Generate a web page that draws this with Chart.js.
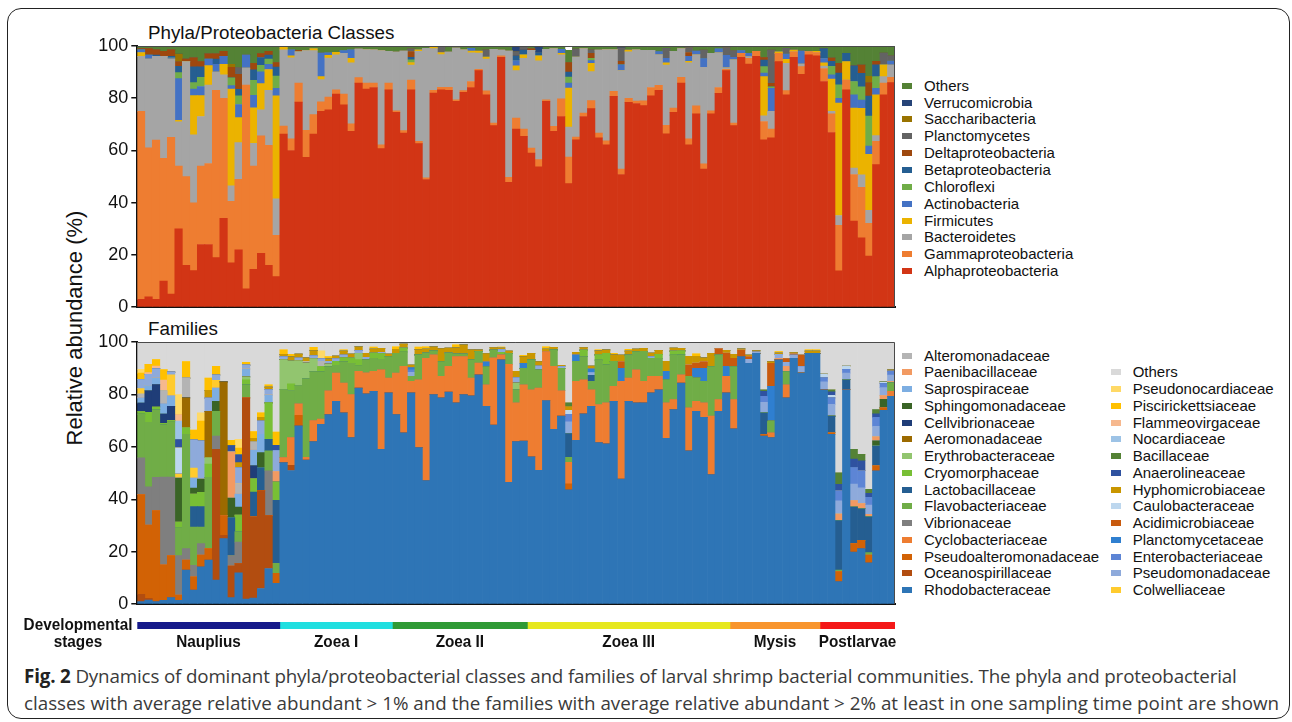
<!DOCTYPE html>
<html>
<head>
<meta charset="utf-8">
<script src="https://cdn.jsdelivr.net/npm/chart.js@4.4.1/dist/chart.umd.min.js"></script>
<style>
  body { margin: 0; width: 1292px; height: 722px; background: #fff; position: relative; overflow: hidden;
         font-family: 'Liberation Sans', Arial, sans-serif; color: #111; }
  #frame { position: absolute; left: 7px; top: 8px; width: 1283px; height: 711px; border: 1.5px solid #222;
           border-radius: 14px; box-sizing: border-box; }
  canvas { position: absolute; }
  .title { position: absolute; font-size: 18.8px; line-height: 19px; white-space: nowrap; }
  #ylabel { position: absolute; left: -75px; top: 315px; width: 300px; height: 26px; line-height: 26px;
            font-size: 22px; text-align: center; transform: rotate(-90deg); white-space: nowrap; }
  .item { position: absolute; height: 18px; line-height: 18px; font-size: 15px; white-space: nowrap; }
  .item i { position: absolute; left: 0; top: 6px; width: 10px; height: 6px; }
  .item span { position: absolute; left: 22px; top: 0; }
  #caption { position: absolute; left: 24px; top: 663px; font-family: 'Open Sans', sans-serif; font-size: 18.8px;
             line-height: 27px; color: #3a3a3a; white-space: nowrap; }
  #caption b { color: #222; }
  #caption .l1 { letter-spacing: -0.16px; }
</style>
</head>
<body>
<div id="frame"></div>
<div class="title" style="left:148px; top:23px;">Phyla/Proteobacteria Classes</div>
<div class="title" style="left:148px; top:319px;">Families</div>
<div id="ylabel">Relative abundance (%)</div>
<canvas id="phyla" width="850" height="291" style="left:50px; top:30px;"></canvas>
<canvas id="families" width="850" height="292" style="left:50px; top:326px;"></canvas>
<canvas id="stages" width="900" height="45" style="left:0px; top:612px;"></canvas>
<div id="legendPhyla"></div>
<div id="legendFamilies"></div>
<div id="caption"><span class="l1"><b>Fig. 2</b> Dynamics of dominant phyla/proteobacterial classes and families of larval shrimp bacterial communities. The phyla and proteobacterial</span><br>classes with average relative abundant &gt; 1% and the families with average relative abundant &gt; 2% at least in one sampling time point are shown</div>

<script>
// stages (samples per stage, left to right)
const stageNames = ['Nauplius', 'Zoea I', 'Zoea II', 'Zoea III', 'Mysis', 'Postlarvae'];
const stageCounts = [19, 15, 18, 27, 12, 10];
const stageColors = ['#15198a', '#1fdfe0', '#2f9a35', '#e6e81e', '#f8952d', '#f41818'];
const yTicks = [0, 20, 40, 60, 80, 100];

// ---------- phyla / proteobacteria classes (%), one value per sample ----------
// rows: Nauplius | Zoea I | Zoea II | Zoea III | Mysis | Postlarvae
const alphaproteobacteria = [
  3, 4, 3, 10, 5, 30, 16, 14, 24, 24, 19, 34, 17, 22, 7, 14.5, 20.6, 16, 11.7,
  66.3, 60, 78.5, 57.4, 66.3, 75, 75.6, 81.6, 77.5, 67.3, 85.8, 83.5, 84.1, 60.7, 83.2,
  74.6, 66.7, 83.2, 62.6, 48.9, 82, 83.2, 83, 78.8, 82.3, 84.1, 90.6, 81.3, 69.5, 95.7, 47.8, 68.2, 65.4,
  59, 53.7, 78.8, 67.3, 73, 47.3, 64.1, 73, 76, 64.8, 62.2, 80.7, 50.8, 78.4, 78, 77.2, 80.9, 83, 66.4, 74.6, 85.8, 62.2, 74, 52.9, 74, 81.9, 90.6,
  69.5, 95.7, 93.1, 96, 64.1, 64.8, 94, 81.3, 95.7, 89.2, 96.6, 96.2,
  86.4, 66.9, 13.9, 83.2, 33, 26.6, 19.6, 54.6, 81.3, 86
];
const gammaproteobacteria = [
  72, 57, 61, 47, 60, 24, 34, 26, 30, 31, 64, 46, 23.5, 27, 78, 39.5, 45, 46, 15.8,
  3, 4.5, 7.3, 10.3, 7.4, 3.6, 4.8, 1.6, 4.1, 2.9, 2.1, 2.3, 1.7, 1.5, 2.6,
  0.6, 0.9, 3.8, 0.9, 0.6, 1, 1, 1.2, 0.6, 0.6, 2.3, 0.5, 1.5, 1, 0.5, 1.9, 4.2, 2.8,
  1.9, 2.8, 0.6, 1.9, 6.8, 10.2, 1, 1.3, 3.1, 1.9, 1.5, 1.9, 2.1, 1.6, 0.9, 1.8, 3.2, 1.9, 3.2, 1.6, 2.2, 2.3, 3.1, 2, 1.2, 2.2, 0.5,
  1, 1.5, 2.2, 2, 7, 3.4, 3.2, 1.6, 2.1, 2.9, 1.3, 1.3,
  5, 7.1, 17.4, 3.8, 17.8, 19.3, 12.5, 8.9, 4.5, 2
];
const bacteroidetes = [
  21, 34, 32, 39, 30, 17, 44, 26, 19, 30, 7, 9, 6, 14, 6.5, 8.7, 10, 21, 14,
  29.2, 31, 12, 30.5, 24.5, 8.5, 15, 13.4, 15.6, 23.4, 10.9, 12.8, 12.7, 36, 12.2,
  22.5, 30.5, 5.7, 34.5, 49.6, 16, 12.5, 13.5, 19.8, 15.6, 11, 6.2, 12.2, 28.2, 2.2, 48.4, 18.2, 27.1,
  37.4, 37.8, 19.3, 29.8, 16.8, 11.5, 30.7, 24.7, 11.1, 31.7, 34.9, 16, 37.7, 17.8, 19.6, 19.3, 14.2, 11.7, 23.1, 21.8, 11, 29.1, 19.5, 36.9, 22, 13.3, 0.5,
  24.2, 0, 0.6, 0, 2.2, 6.8, 0, 10.5, 0, 1, 0, 0,
  0.9, 1, 3.8, 0, 2.5, 4.8, 5, 2.2, 2.5, 4.7
];
const firmicutes = [
  1.5, 0, 0, 0, 0, 0.5, 0, 15, 8, 7.5, 0, 4, 37, 9.6, 0, 13.6, 10, 8, 39.4,
  1, 0.7, 0, 0, 0.8, 1.2, 1, 1, 0, 1.7, 0, 0, 0, 0, 0,
  0, 0, 1, 0.5, 0, 0.5, 0.8, 0, 0, 0, 0.7, 0.8, 0.8, 0, 0, 0, 1.8, 1.3,
  0, 1.9, 0, 0, 0.6, 14.9, 0, 0, 3.2, 0, 0, 0, 0, 0.6, 0, 0, 0, 0, 0.9, 0, 0, 0.5, 0, 0, 0, 0, 0,
  0, 0, 0, 0, 15, 0, 0.6, 1.5, 0.6, 0, 0, 0.5,
  1.3, 12.3, 43, 7, 22.9, 25.4, 21.4, 15.6, 4.5, 0
];
const actinobacteria = [
  1, 1.5, 0, 0, 0.5, 16, 0, 2.5, 3.5, 2.5, 3, 3, 1.3, 5, 5, 4.8, 4.5, 2, 2.9,
  0, 2.3, 0, 0, 0, 9, 1, 0, 1, 3.2, 0, 0, 0, 0, 0,
  0, 0, 0, 0, 0, 0, 0, 0, 0, 0, 1, 0, 0, 0, 0, 0, 2, 0,
  0, 0, 0, 0, 1.5, 1.9, 0, 0, 1, 0, 0, 0, 2.2, 0, 0, 0, 0, 1.3, 1.7, 0, 0, 1.9, 1.5, 3.4, 0, 1.5, 4.8,
  1, 1, 1.3, 0, 1.3, 8.8, 0, 2, 0, 5, 0, 0,
  1.6, 1.7, 1.9, 0, 5.1, 3.2, 3.2, 2.5, 0, 1.5
];
const chloroflexi = [
  0, 0, 0, 0, 0, 2.3, 0, 2.5, 3.5, 0, 0, 0, 3, 3.3, 0, 5.8, 2.5, 2, 4.7,
  0, 0, 0, 0, 0, 0, 0, 0, 0, 0, 0, 0, 0, 0, 0,
  0, 0, 1, 0, 0, 0, 0, 0, 0, 0, 0, 0, 0, 0, 0, 0, 0, 0,
  0, 0, 0, 0, 0, 2.3, 0, 0, 0.9, 0, 0, 0, 0, 0, 0, 0, 0, 0, 0, 0, 0, 0, 0, 0, 0, 0, 0,
  0, 0, 0, 0, 2.5, 0.6, 0, 0, 0, 0, 0, 0,
  0, 3.2, 5.1, 0, 5.1, 5.1, 11.5, 4.5, 0, 0
];
const betaproteobacteria = [
  0, 0, 0.5, 0, 0.5, 2.4, 0, 6, 4, 0, 2, 0, 0, 2.5, 0, 4, 3, 1.5, 3.4,
  0, 0, 0, 0, 0, 0, 0, 0, 0, 0, 0, 0, 0, 0, 0,
  0, 0, 1, 0, 0, 0, 0, 0, 0, 0, 0, 0, 0, 0, 0, 0, 1.8, 1.9,
  0, 1.3, 0, 0, 0, 1.9, 0, 0, 0, 0, 0, 0, 0, 0, 0, 0, 0, 0, 0, 0, 0, 0, 0, 0, 0, 0, 0,
  0, 0, 0, 0, 2.5, 0, 0, 0, 0, 0, 0, 0,
  3.8, 1.9, 4.5, 3.2, 6, 5.1, 7.6, 4.5, 0, 0
];
const deltaproteobacteria = [
  0.5, 2.5, 2, 2, 2.5, 1.7, 1, 3.5, 2, 2, 2, 2, 4, 5.8, 0, 2.5, 1.5, 1.5, 1.8,
  0, 0, 0.5, 0, 0, 0, 0, 0, 0, 0, 0, 0, 0, 0, 0,
  0, 0, 2.2, 0, 0, 0, 0, 0, 0, 0, 0, 0, 0, 0, 0, 0, 0, 0,
  0.6, 0, 0, 0, 0, 3.7, 0, 0, 1.9, 0, 0, 0, 1.3, 0, 0, 0, 0, 0, 0, 0, 0, 1.5, 0, 0, 0, 0, 0,
  0, 0, 0, 0, 1, 1.3, 0, 0, 0, 0, 0, 0,
  0, 1.3, 3.8, 0, 0, 3.2, 5.1, 1.3, 0, 0
];
const planctomycetes = [
  0, 0, 0, 0, 0, 0, 0, 0, 0, 0, 0, 0, 0, 2.5, 0, 0, 0, 0, 0,
  0, 0, 0, 0, 0, 0, 0, 0, 0, 0, 0, 0, 0, 0, 0,
  0, 0, 1, 0, 0, 0, 2, 0, 0, 0, 0, 0, 2.7, 0, 0, 0, 1.6, 1.3,
  0, 0, 0, 0, 0, 0, 3, 0, 1.3, 0, 0, 0, 5.1, 0, 0, 0, 0, 0, 3.8, 0, 0, 1.9, 0, 3.2, 0, 0, 3,
  2.5, 0, 0, 0, 0, 12.7, 0, 2.2, 0, 0, 0, 0,
  0, 0, 0, 0, 0, 0, 0, 0, 4.5, 2
];
const saccharibacteria = [
  0, 0, 0, 0, 0, 3, 0, 0, 0, 0, 0, 0, 1.2, 0, 0, 0, 0, 0, 0,
  0, 0, 0, 0, 0, 0, 0, 0, 0, 0, 0, 0, 0, 0, 0,
  0, 0, 0, 0, 0, 0, 0, 0, 0, 0, 0, 0, 0, 0, 0, 0, 0, 0,
  0, 0, 0, 0, 0, 0, 0, 0, 0, 0, 0, 0, 0, 0, 0, 0, 0, 0, 0, 0, 0, 0, 0, 0, 0, 0, 0,
  0, 0, 0, 0, 0, 0, 0, 0, 0, 0, 0, 0,
  0, 0, 0, 0, 0, 0, 2.5, 0, 0, 0
];
const verrucomicrobia = [
  0, 0, 0, 0, 0, 0, 0, 0, 0, 0, 0, 0, 0, 0, 0, 0, 0, 0, 0,
  0, 0, 0, 0, 0, 0, 0, 0, 0, 0, 0, 0, 0, 0, 0,
  0, 0, 0, 0, 0, 0, 0, 0, 0, 0, 0, 0, 0, 0, 0, 0, 1.9, 0,
  0, 2, 0, 0, 0, 0, 0, 0, 0, 0, 0, 0, 0.6, 0, 0, 0, 0, 0, 0, 0, 0, 0, 0, 0, 0, 0, 0,
  0, 0, 0, 0, 0, 0, 0, 0, 0, 0, 0, 0,
  0, 0, 0, 0, 0, 0, 0, 0, 0, 0
];
const othersPhyla = [
  1, 1, 1.5, 2, 1.5, 3.1, 5, 4.5, 6, 3, 3, 2, 7, 8.3, 3.5, 6.6, 2.9, 2, 6.3,
  0.5, 1.5, 1.7, 1.8, 1, 2.7, 2.6, 2.4, 1.8, 1.5, 1.2, 1.4, 1.5, 1.8, 2,
  2.3, 1.9, 1.1, 1.5, 0.9, 0.5, 0.5, 2.3, 0.8, 1.5, 0.9, 1.9, 1.5, 1.3, 1.6, 1.9, 0.3, 0.2,
  1.1, 0.5, 1.3, 1, 1.3, 4.6, 1.2, 1, 1.5, 1.6, 1.4, 1.4, 0.2, 1.6, 1.5, 1.7, 1.7, 2.1, 0.9, 2, 1, 0.6, 1.9, 1.6, 2.8, 1.1, 0.6,
  1.8, 1.8, 2.8, 2, 4.4, 1.6, 2.2, 0.9, 1.6, 1.9, 2.1, 2,
  1, 4.6, 6.6, 2.8, 7.6, 7.3, 11.6, 5.9, 2.7, 3.8
];

// ---------- families (%), one value per sample ----------
const rhodobacteraceae = [
  1, 1.6, 1, 1.5, 2.5, 1.5, 13, 5.4, 14.3, 16.8, 9.2, 25, 2.5, 12, 2, 2.3, 6, 13.6, 8,
  54, 51, 68, 55, 62, 68.6, 72.3, 77.4, 73, 63.5, 82.4, 80.2, 81.2, 59.1, 80.6,
  72.3, 65.4, 80.6, 59.7, 47.1, 79.9, 78.7, 80.9, 76.8, 79.9, 79.5, 87.5, 75.5, 68.3, 93.2, 46.5, 62, 62.2,
  56.2, 51.1, 77.7, 66.7, 71.7, 43.6, 62.5, 72.6, 75.5, 61.6, 61.2, 77.4, 47.7, 77.4, 76.8, 76.8, 80.6, 81.8, 63.3, 74.2, 84.3, 58.5, 73.6, 71.3, 49.4, 73.6, 80.6,
  66.9, 94.4, 91.9, 95.7, 64.1, 63.5, 93.2, 78.7, 93.8, 88.1, 95.7, 95.7,
  81.8, 64.8, 8.6, 81.8, 19.9, 21.2, 15.8, 50.9, 73.9, 79.3
];
const oceanospirillaceae = [
  2.8, 0.6, 0, 0, 0, 0, 0, 0, 0, 0, 49.9, 1.3, 12, 3.5, 76.7, 31, 37.3, 20.2, 0,
  0, 2, 0, 0, 0, 0, 0, 0, 0, 0, 0, 0, 0, 0, 0,
  0, 0, 0, 0, 0, 0, 0, 0, 0, 0, 0, 0, 0, 0, 0, 0, 0, 0,
  0, 0, 0, 0, 0, 0, 0, 0, 0, 0, 0, 0, 0, 0, 0, 0, 0, 0, 0, 0, 0, 0, 0, 0, 0, 0, 0,
  0, 0, 0, 0, 0, 0, 0, 0, 0, 0, 0, 0,
  0, 0, 0, 0, 0, 0, 0, 0, 0, 0
];
const pseudoalteromonadaceae = [
  38, 28, 34.7, 13.5, 16, 2, 3.8, 5, 4.4, 4.4, 0, 7.5, 0, 0, 0, 0, 0, 0, 3.8,
  0, 0, 4, 0, 0, 0, 0, 0, 0, 0, 0, 0, 0, 0, 0,
  0, 0, 0, 0, 0, 0, 0, 0, 0, 0, 0, 0, 0, 0, 0, 0, 0, 0,
  0, 0, 0, 0, 0, 2.3, 0, 0, 0, 0, 0, 0, 0, 0, 0, 0, 0, 0, 0, 0, 0, 0, 0, 0, 0, 0, 0,
  0, 0, 0, 0, 0.6, 0, 0, 0, 0, 0, 0, 0,
  0, 0.6, 3.8, 0, 3.2, 3.2, 2.9, 1.9, 1, 0
];
const cyclobacteriaceae = [
  0, 0, 0, 0, 0, 0, 0, 0, 0, 0, 0, 0, 0, 0, 0, 0, 0, 0, 0,
  1.9, 10.5, 4.4, 1, 8, 2, 9.1, 10.7, 11.3, 16.4, 6.4, 8, 7.6, 30.3, 5.6,
  15.8, 25.3, 4.4, 25.9, 46.7, 15.2, 8.2, 9.8, 17.6, 14.5, 6.7, 4.5, 8.2, 25.7, 1.9, 45, 14.8, 21.5,
  25.6, 31.3, 18.6, 24, 9.7, 8.2, 22.5, 13, 6.3, 14.5, 15.6, 5.7, 37.3, 8.8, 12.6, 8.2, 6.3, 5.1, 13.5, 3.8, 3.2, 16.4, 3.8, 5.5, 22.3, 4.4, 6.3,
  11.1, 0, 0, 0, 0, 1.9, 0, 5, 0, 0, 0, 0,
  0, 0, 0, 0, 0, 0, 0, 0, 0, 1.9
];
const vibrionaceae = [
  14, 14.6, 12.7, 33.5, 30, 15, 4.4, 4.4, 4.4, 0, 5, 0, 4, 8.2, 0, 0, 0, 17.1, 0,
  0, 0, 0, 0, 0, 0, 0, 0, 0, 0, 0, 0, 0, 0, 0,
  0, 0, 0, 0, 0, 0, 0, 0, 0, 0, 0, 0, 0, 0, 0, 0, 0, 0,
  0, 0, 0, 0, 0, 0, 0, 0, 0, 0, 0, 0, 0, 0, 0, 0, 0, 0, 0, 0, 0, 0, 0, 0, 0, 0, 0,
  0, 0, 0, 0, 0, 0, 0, 0, 0, 0, 0, 0,
  0, 0, 0, 0, 0, 0, 0, 0, 0, 0
];
const flavobacteriaceae = [
  16.7, 24.6, 25.8, 20, 21, 10.5, 43.6, 14.6, 6.3, 27.2, 9.5, 0, 0, 4, 5, 0, 0, 7.6, 3.8,
  26, 18, 7, 30, 18.7, 18, 9.2, 3, 8.2, 12, 2, 5, 5, 4, 8.2,
  7.6, 5.5, 1.9, 9.5, 2, 1.5, 5.6, 5.1, 1, 1, 7, 4.4, 6.8, 2.9, 0, 4.2, 5, 6.3,
  11.4, 6.9, 0, 6.3, 8.6, 1.9, 7.6, 8.8, 3.2, 17, 14.5, 9.5, 0, 8.8, 6.9, 11.4, 6.9, 6.9, 8.8, 17, 7.6, 12, 8.8, 8.2, 18.9, 17, 0,
  12.6, 0, 0, 0, 0, 4.4, 0, 5, 0, 0, 0, 0,
  0, 0, 0.6, 0, 0, 0, 1, 0, 0, 3.2
];
const lactobacillaceae = [
  0, 0, 0, 0, 0, 0, 0, 7.8, 7.8, 0, 0, 0, 14.5, 0, 0, 9.5, 8.8, 4.4, 24,
  0, 0, 0, 0, 0, 0, 0, 0, 0, 0, 0, 0, 0, 0, 0,
  0, 0, 0, 0, 0, 0, 0, 0, 0, 0, 0, 0, 0, 0, 0, 0, 0, 0,
  0, 0, 0, 0, 0, 9.1, 0, 0, 2.3, 0, 0, 0, 0, 0, 0, 0, 0, 0, 0, 0, 0, 0, 0, 0, 0, 0, 0,
  0, 0, 0, 0, 8.3, 0, 0, 0, 0, 0, 0, 0,
  0, 6.3, 18.9, 3.8, 13.9, 12, 13.6, 7.6, 0, 0
];
const cryomorphaceae = [
  1, 3.8, 1, 0.5, 0.5, 2.3, 2.5, 4.8, 5.5, 5, 0, 0, 0, 6.3, 2, 5, 0, 13.9, 7,
  0, 2.5, 0, 0, 0, 2, 0, 1.5, 1.5, 2, 2.5, 0, 2, 2.2, 0,
  0, 1.5, 0, 0, 0, 0, 0, 0, 0, 0, 0, 0, 0, 0, 1, 0, 0, 0,
  0, 0, 0, 0, 0, 0, 0, 2.5, 0, 2, 4.4, 0, 0, 0, 0, 0, 0, 1.5, 0, 1.5, 1.5, 0, 0, 0, 0, 0, 0,
  0, 0, 0, 0, 0, 0, 0, 0, 0, 0, 0, 0,
  0, 0, 0, 0, 0, 0, 0, 0, 0, 0
];
const erythrobacteraceae = [
  0, 0, 0, 0, 0, 0, 0, 0, 0, 2.5, 0, 0, 0, 0, 1, 0, 0, 0, 0,
  11.4, 8.8, 9.5, 6, 5, 0, 1, 0, 0, 0, 2.4, 0, 0, 0, 0,
  0, 0, 0, 0, 0, 0, 0, 0, 0, 0, 0, 0, 0, 0, 0, 0, 2.5, 0,
  0, 0, 0, 0, 0, 0, 0, 0, 0, 0, 0, 0, 0, 0, 0, 0, 0, 0, 0, 0, 0, 0, 0, 0, 0, 0, 0,
  0, 0, 0, 0, 0, 0, 0, 0, 0, 0, 0, 0,
  0, 0, 0, 0, 0, 0, 0, 0, 0, 0
];
const aeromonadaceae = [
  0, 0, 0, 0, 0, 0, 11.4, 0, 0, 17.7, 0, 51, 0, 0, 0, 0, 0, 0, 0,
  0, 0, 0, 0, 0, 0, 0, 0, 0, 0, 0, 0, 0, 0, 0,
  0, 0, 0, 0, 0, 0, 0, 0, 0, 0, 0, 0, 0, 0, 0, 0, 0, 0,
  0, 0, 0, 0, 0, 0, 0, 0, 0, 0, 0, 0, 0, 0, 0, 0, 0, 0, 0, 0, 0, 0, 0, 0, 0, 0, 0,
  0, 0, 0, 0, 0, 0, 0, 0, 0, 0, 0, 0,
  0, 0, 0, 0, 0, 0, 0, 0, 0, 0
];
const cellvibrionaceae = [
  3.2, 8.2, 8.6, 3.5, 5.5, 0, 0, 0, 0, 0, 0, 0, 0, 0, 0, 5, 0, 0, 0,
  0, 0, 0, 0, 0, 0, 0, 0, 0, 0, 0, 0, 0, 0, 0,
  0, 0, 0, 0, 0, 0, 0, 0, 0, 0, 0, 0, 0, 0, 0, 0, 0, 0,
  0, 0, 0, 0, 0, 0, 0, 0, 0, 0, 0, 0, 0, 0, 0, 0, 0, 0, 0, 0, 0, 0, 0, 0, 0, 0, 0,
  0, 0, 0, 0, 0, 0, 0, 0, 0, 0, 0, 0,
  0, 0, 0, 0, 0, 0, 0, 0, 0, 0
];
const sphingomonadaceae = [
  0, 0, 0, 0, 0, 16.8, 0, 2.3, 5, 0, 3.8, 0, 7.5, 3, 0, 0, 5.7, 0, 0,
  0, 0, 0, 0, 0, 0, 0, 0, 0, 0, 0, 0, 0, 0, 0,
  0, 0, 0, 0, 0, 0, 0, 0, 0, 0, 0, 0, 0, 0, 0, 0, 0, 0,
  0, 0, 0, 0, 0, 0, 0, 0, 0, 0, 0, 0, 0, 0, 0, 0, 0, 0, 0, 0, 0, 0, 0, 0, 0, 0, 0,
  0, 0, 0, 0, 0, 0, 0, 0, 0, 0, 0, 0,
  0, 0, 0, 0, 0, 0, 0, 1.9, 3.2, 0
];
const saprospiraceae = [
  2, 2, 2.5, 4, 4, 0, 0, 3.8, 0, 0, 5, 0, 0, 5, 3, 6, 7, 3, 0,
  0, 0, 0, 0, 0, 0, 0, 0, 0, 0, 0, 0, 0, 0, 0,
  0, 0, 0, 0, 0, 0, 0, 0, 0, 0, 0, 0, 0, 0, 0, 0, 0, 0,
  0, 0, 0, 0, 0, 0, 0, 0, 0, 0, 0, 0, 0, 0, 0, 0, 0, 0, 0, 0, 0, 0, 0, 0, 0, 0, 0,
  0, 0, 0, 0, 0, 0, 0, 0, 0, 0, 0, 0,
  0, 0, 0, 0, 0, 0, 0, 0, 0, 0
];
const paenibacillaceae = [
  0, 0, 0, 0, 0, 0, 0, 0, 0, 0, 0, 0, 17.5, 0, 0, 0, 0, 0, 4,
  0, 0, 0, 0, 0, 0, 0, 0, 0, 0, 0, 0, 0, 0, 0,
  0, 0, 0, 0, 0, 0, 0, 0, 0, 0, 0, 0, 0, 0, 0, 0, 0, 0,
  0, 0, 0, 0, 0, 0, 0, 0, 0, 0, 0, 0, 0, 0, 0, 0, 0, 0, 0, 0, 0, 0, 0, 0, 0, 0, 0,
  0, 0, 0, 0, 0, 0, 0.6, 2, 0, 0, 0, 0,
  0, 0, 2.5, 0, 2.5, 2, 1, 1.5, 1.5, 0.5
];
const alteromonadaceae = [
  1.5, 0, 0, 5, 0, 0, 7.5, 0, 0, 0, 0, 0, 0, 4, 0, 3, 0, 0, 0,
  0, 0, 0, 0.5, 0, 2, 0, 0, 0, 0, 0, 0, 0, 0, 0,
  0, 0, 0, 0, 0, 0, 0, 0, 0, 0, 0, 0, 0, 0, 0, 0, 0, 0,
  0, 0, 0, 0, 0, 0, 0, 0, 0, 0, 0, 0, 0, 0, 0, 0, 0, 0, 0, 0, 0, 0, 0, 0, 0, 0, 0,
  0, 0, 0, 0, 0, 0, 0, 0, 0, 0, 0, 0,
  0, 0, 0, 0, 0, 0, 0, 0, 0, 0
];
const colwelliaceae = [
  2, 0, 0, 0, 8, 1.5, 0, 3.8, 0, 0, 3, 0, 0, 0, 0, 0, 0, 0, 0,
  0, 0, 0, 0, 0, 0, 0, 0, 0, 0, 0, 0, 0, 0, 0,
  0, 0, 0, 0, 0, 0, 0, 0, 0, 0, 0, 0, 0, 0, 0, 0, 0, 0,
  0, 0, 0, 0, 0, 0, 0, 0, 0, 0, 0, 0, 0, 0, 0, 0, 0, 0, 0, 0, 0, 0, 0, 0, 0, 0, 0,
  0, 0, 0, 0, 0, 0, 0, 0, 0, 0, 0, 0,
  0, 0, 0, 0, 0, 0, 0, 0, 0, 0
];
const pseudomonadaceae = [
  3.5, 4.3, 3.5, 0, 1, 0, 0, 10.7, 14.5, 5, 2, 0, 0, 6, 1.5, 0, 5, 2, 8,
  1, 0, 1, 0, 1, 1, 1, 1, 1, 0, 1, 1, 0, 0.5, 0,
  0, 0, 1.5, 0, 0, 0, 0, 0, 0, 0, 0, 0, 0, 0, 1, 0, 2, 0,
  0, 1.5, 0, 0, 0.6, 4.5, 0, 0, 1, 0, 0, 0, 0, 0, 0, 0, 0.5, 0, 0, 0, 0, 0, 0, 0, 0, 0, 0,
  0, 0, 1.5, 0.5, 4, 0, 1.5, 1.5, 1.2, 2.5, 0, 0,
  3, 4.5, 5, 2.5, 6.3, 6, 3.5, 4, 3, 2.5
];
const enterobacteriaceae = [
  0, 0, 0, 0, 0, 0, 0, 0, 0, 0, 0, 0, 0, 0, 0, 0, 0, 0, 0,
  0, 0, 0, 0, 0, 0, 0, 0, 0, 0, 0, 0, 0, 0, 0,
  0, 0, 1, 0, 0, 0, 0, 0, 0, 0, 0, 0, 0, 0, 0, 0, 0, 0,
  0, 0, 0, 0, 0, 2.8, 0, 0, 0, 0, 0, 0, 0, 0, 0, 0, 0, 0, 0, 0, 0, 0, 0, 0, 0, 0, 0,
  0, 0, 0, 0, 2.3, 0, 0, 0, 0, 0, 0, 0,
  1.5, 2.5, 3.8, 1.5, 6.3, 6.5, 3, 3.5, 1.5, 1.5
];
const planctomycetaceae = [
  0, 0, 0, 0, 0, 0, 0, 0, 0, 0, 0, 0, 0, 0, 0, 0, 0, 0, 0,
  0, 0, 0, 0, 0, 0, 0, 0, 0, 0, 0, 0, 0, 0, 0,
  0, 0, 0.8, 0, 0, 0, 0, 0, 0, 0, 0, 0, 1.9, 0, 0, 0, 0, 1.9,
  0, 0, 0, 0, 0, 0, 2.5, 0, 1.5, 0, 0, 0, 5, 0, 0, 0, 0, 0, 3.2, 0, 0, 0, 3.8, 5, 0, 0, 3.8,
  0, 0, 0, 0, 0, 13.3, 0, 0, 0, 0, 0, 0,
  0, 0, 0, 0, 0, 0, 0, 0, 0, 0
];
const acidimicrobiaceae = [
  0, 0, 0, 0, 0, 0, 0, 0, 0, 0, 0, 0, 0, 0, 0, 0, 0, 0, 0,
  0, 0, 0, 0, 0, 0, 0, 0, 0, 0, 0, 0, 0, 0, 0,
  0, 0, 0, 0, 0, 0, 0, 0, 0, 0, 0, 0, 0, 0, 0, 0, 0, 0,
  0, 0, 0, 0, 0, 0, 0, 0, 0, 0, 0, 0, 2.5, 0, 0, 0, 0, 0, 0, 0, 0, 4.4, 2, 2.5, 0, 2.5, 5.1,
  3.2, 2.5, 1, 0, 0, 8.8, 0, 1.5, 0.5, 4.4, 0, 0,
  0, 0, 0, 0, 0, 0, 0, 0, 0, 0
];
const caulobacteraceae = [
  0, 0, 0, 0, 0, 10, 0, 0, 0, 0, 0, 0, 0, 0, 0, 0, 0, 0, 0,
  0, 0, 0, 0, 0, 0, 0, 0, 0, 0, 0, 0, 0, 0, 0,
  0, 0, 0, 0, 0, 0, 0, 0, 0, 0, 0, 0, 0, 0, 0, 0, 0, 0,
  0, 0, 0, 0, 0, 1.5, 0, 0, 0, 0, 0, 0, 0, 0, 0, 0, 0, 0, 0, 0, 0, 0, 0, 0, 0, 0, 0,
  0, 0, 0, 0, 0, 0, 0, 0, 0, 0, 0, 0,
  1.5, 1, 0, 1.3, 0, 0, 0, 0, 0.6, 0
];
const hyphomicrobiaceae = [
  0, 0, 0, 0, 0, 0, 0, 0, 0, 3, 0, 0, 0, 2, 0, 1.5, 1.5, 1, 0,
  1, 1.5, 1.5, 1.5, 2, 0, 1, 1, 1.5, 1.5, 1.5, 1.5, 1.5, 1.5, 1,
  1.5, 1.5, 1, 2, 1.5, 1.6, 5, 1.9, 2.4, 3.5, 3.8, 0.6, 3.2, 1, 0.6, 0.8, 2.5, 2.5,
  2.5, 1.7, 1, 1, 0.5, 1.5, 1, 1, 1, 1.5, 1.3, 2.5, 2.5, 1.5, 1, 1.2, 1.5, 1.5, 3.8, 1.2, 1, 3.2, 2.5, 1.5, 5.1, 0, 1,
  1.5, 0.5, 0.6, 0.5, 0, 0.6, 0.5, 0, 0.5, 0, 0.8, 0.8,
  0, 0, 0, 0, 0, 0, 0, 0, 0, 0.5
];
const anaerolineaceae = [
  0, 0, 0, 0, 0, 3.2, 0, 0, 0, 0, 0, 0, 2.5, 3, 0, 0, 0, 0, 2,
  0, 0, 0, 0, 0, 0, 0, 0, 0, 0, 0, 0, 0, 0, 0,
  0, 0, 0, 0, 0, 0, 0, 0, 0, 0, 0, 0, 0, 0, 0, 0, 0, 0,
  0, 0, 0, 0, 0, 0, 0, 0, 0, 0, 0, 0, 0, 0, 0, 0, 0, 0, 0, 0, 0, 0, 0, 0, 0, 0, 0,
  0, 0, 0, 0, 1.9, 0, 0, 0, 0, 0, 0, 0,
  0, 1.3, 2.5, 0, 3.2, 3.8, 1.5, 1.3, 0, 0
];
const bacillaceae = [
  0, 0, 0, 0, 0, 0, 0, 0, 0, 0, 0, 0, 0, 0, 0, 0, 0, 0, 0,
  0, 0, 0, 0, 0, 0, 0, 0, 0, 0, 0, 0, 0, 0, 0,
  0, 0, 0, 0, 0, 0, 0, 0, 0, 0, 0, 0, 0, 0, 0, 0, 0, 0,
  0, 0, 0, 0, 0, 1.4, 0, 0, 0, 0, 0, 0, 0, 0, 0, 0, 0, 0, 0, 0, 0, 0, 0, 0, 0, 0, 0,
  0, 0, 0, 0, 0.6, 0, 0, 0, 0, 0, 0, 0,
  0, 0.8, 4.4, 0, 3.8, 2.5, 1.5, 1.6, 0.3, 0
];
const nocardiaceae = [
  0, 0, 0, 0, 0, 7, 0, 0, 0, 0, 0, 0, 0, 0, 0, 0, 0, 0, 0,
  0, 0, 0, 0, 0, 0, 0, 0, 0, 0, 0, 0, 0, 0, 0,
  0, 0, 0, 0, 0, 0, 0, 0, 0, 0, 0, 0, 0, 0, 0, 0, 0, 0,
  0, 0, 0, 0, 0, 0, 0, 0, 0, 0, 0, 0, 0, 0, 0, 0, 0, 0, 0, 0, 0, 0, 0, 0, 0, 0, 0,
  0, 0, 0, 0, 0, 0, 0, 0, 0, 0, 0, 0,
  0, 0, 0, 0, 0, 0, 0, 0, 0, 0
];
const flammeovirgaceae = [
  0, 0.6, 1, 4, 0, 2.5, 0, 0, 0, 0, 0, 0, 0, 0, 0, 0, 0, 0, 0,
  0, 0, 0, 0, 0, 0, 0, 0, 0, 0, 0, 0, 0, 0, 0,
  0, 0, 0, 0, 0, 0, 0, 0, 0, 0, 0, 0, 0, 0, 0, 0, 0, 0,
  0, 0, 0, 0, 0, 0, 0, 0, 0, 0, 0, 0, 0, 0, 0, 0, 0, 0, 0, 0, 0, 0, 0, 0, 0, 0, 0,
  0, 0, 0, 0, 0, 0, 0, 0, 0, 0, 0, 0,
  0, 0, 0, 0, 0, 0, 0, 0, 0, 0
];
const piscirickettsiaceae = [
  2.4, 3.2, 2.5, 4, 0, 0, 6.3, 3.8, 7.6, 4.6, 3.3, 0, 2, 2.5, 1, 2.5, 1.7, 0.9, 5,
  1.7, 1, 0, 0, 1.3, 0, 0.8, 0, 0.5, 0, 0, 0, 0.8, 0, 0,
  1, 0, 0, 1, 0.9, 0, 0, 0, 1.1, 0, 0, 0, 0, 0, 0.4, 0, 0, 0.5,
  0, 0, 0.9, 0, 0, 0, 0, 0, 0, 0.4, 0, 0.6, 0, 0.7, 0, 0, 0, 0, 0, 0, 0, 0, 1, 0, 0, 0, 0,
  0, 0, 0, 0, 0, 0, 0.5, 0, 0, 0, 0.5, 0.5,
  0, 0, 0, 0, 0, 0, 0, 0, 0, 0
];
const pseudonocardiaceae = [
  1.5, 0, 0, 0, 0, 7.6, 0, 0, 3.2, 0, 0, 0, 0, 3.4, 0, 0, 0, 0, 0,
  0, 0, 0, 0, 0, 3, 0, 0, 0, 0, 0, 0, 0, 0, 0,
  0, 0, 0, 0, 0, 0, 0, 0, 0, 0, 0, 0, 0, 0, 0, 0, 0, 0,
  0, 0, 0, 0, 0, 0, 0, 0, 0, 0, 0, 0, 0, 0, 0, 0, 0, 0, 0, 0, 0, 0, 0, 0, 0, 0, 0,
  0, 0, 0, 0, 0, 0, 0, 0, 0, 0, 0, 0,
  0, 0, 0, 0, 0, 0, 0, 0, 0, 0
];
const othersFamilies = [
  10.4, 8.5, 6.7, 10.5, 11.5, 20.1, 7.5, 33.6, 27, 13.8, 9.3, 15.2, 37.5, 37.1, 7.8, 34.2, 27, 16.3, 34.4,
  3, 4.7, 4.6, 6, 2, 3.4, 5.6, 5.4, 3, 4.6, 1.8, 4.3, 1.9, 2.4, 4.6,
  1.8, 1, 8.8, 1.9, 1.8, 1.8, 2.5, 2.3, 1.1, 1.1, 3, 3, 4.4, 2.1, 1.9, 3.5, 11.2, 5.1,
  4.3, 7.5, 1.8, 2, 8.9, 23.2, 3.9, 2.1, 9.2, 3, 3, 4.3, 5, 2.8, 2.7, 2.4, 4.2, 3.2, 7.4, 2.3, 2.4, 5.5, 4.5, 6, 4.3, 2.5, 3.2,
  4.7, 2.6, 5, 3.3, 18.2, 7.5, 3.7, 6.3, 4, 5, 3, 3,
  12.2, 18.2, 49.9, 9.1, 40.9, 42.8, 56.2, 25.8, 15, 10.6
];

// series in stacking order (bottom first)
const phylaNames = ['Alphaproteobacteria', 'Gammaproteobacteria', 'Bacteroidetes', 'Firmicutes', 'Actinobacteria',
  'Chloroflexi', 'Betaproteobacteria', 'Deltaproteobacteria', 'Planctomycetes', 'Saccharibacteria', 'Verrucomicrobia', 'Others'];
const phylaValues = [alphaproteobacteria, gammaproteobacteria, bacteroidetes, firmicutes, actinobacteria,
  chloroflexi, betaproteobacteria, deltaproteobacteria, planctomycetes, saccharibacteria, verrucomicrobia, othersPhyla];
const phylaColors = ['#d23515', '#ee7d31', '#a5a5a5', '#ebb300', '#4472c4',
  '#70ad47', '#255e91', '#9e480e', '#636363', '#997300', '#264478', '#548235'];

const familyNames = ['Rhodobacteraceae', 'Oceanospirillaceae', 'Pseudoalteromonadaceae', 'Cyclobacteriaceae', 'Vibrionaceae',
  'Flavobacteriaceae', 'Lactobacillaceae', 'Cryomorphaceae', 'Erythrobacteraceae', 'Aeromonadaceae', 'Cellvibrionaceae',
  'Sphingomonadaceae', 'Saprospiraceae', 'Paenibacillaceae', 'Alteromonadaceae', 'Colwelliaceae', 'Pseudomonadaceae',
  'Enterobacteriaceae', 'Planctomycetaceae', 'Acidimicrobiaceae', 'Caulobacteraceae', 'Hyphomicrobiaceae',
  'Anaerolineaceae', 'Bacillaceae', 'Nocardiaceae', 'Flammeovirgaceae', 'Piscirickettsiaceae', 'Pseudonocardiaceae', 'Others'];
const familyValues = [rhodobacteraceae, oceanospirillaceae, pseudoalteromonadaceae, cyclobacteriaceae, vibrionaceae,
  flavobacteriaceae, lactobacillaceae, cryomorphaceae, erythrobacteraceae, aeromonadaceae, cellvibrionaceae,
  sphingomonadaceae, saprospiraceae, paenibacillaceae, alteromonadaceae, colwelliaceae, pseudomonadaceae,
  enterobacteriaceae, planctomycetaceae, acidimicrobiaceae, caulobacteraceae, hyphomicrobiaceae,
  anaerolineaceae, bacillaceae, nocardiaceae, flammeovirgaceae, piscirickettsiaceae, pseudonocardiaceae, othersFamilies];
const familyColors = ['#2e75b6', '#b24d10', '#d26205', '#ee7d31', '#7f7f7f',
  '#70ad47', '#255e91', '#78bf35', '#92c56f', '#9c6a00', '#1f3d78',
  '#3a6426', '#7daee2', '#f29a62', '#b4b4b4', '#ffcb2e', '#8eaadb',
  '#5d85d5', '#2f7fd0', '#c85a0e', '#bdd7ee', '#c99600',
  '#2f52a0', '#548235', '#9dc3e6', '#f6b88e', '#ffc000', '#ffd966', '#d9d9d9'];

// sample labels built from the stage table
const samples = [];
stageNames.forEach((s, i) => {
  for (let k = 1; k <= stageCounts[i]; k++) samples.push(s + ' ' + k);
});
phylaValues.concat(familyValues).forEach((a, i) => {
  if (a.length !== samples.length) console.error('series ' + i + ' has ' + a.length + ' values');
});

Chart.defaults.font.family = "'Liberation Sans', Arial, sans-serif";
Chart.defaults.color = '#111';

const plotFrame = {
  id: 'plotFrame',
  afterDatasetsDraw(chart) {
    const { ctx, chartArea: a } = chart;
    ctx.save();
    ctx.strokeStyle = '#4a4a4a';
    ctx.lineWidth = 1;
    ctx.beginPath();
    ctx.moveTo(a.left, a.top + 0.5);
    ctx.lineTo(a.right - 0.5, a.top + 0.5);
    ctx.lineTo(a.right - 0.5, a.bottom);
    ctx.stroke();
    ctx.restore();
  }
};

function stackedChart(id, names, values, colors) {
  return new Chart(document.getElementById(id), {
    type: 'bar',
    data: {
      labels: samples,
      datasets: names.map((n, i) => ({
        label: n, data: values[i], backgroundColor: colors[i],
        borderWidth: 0, barPercentage: 1, categoryPercentage: 1
      }))
    },
    options: {
      responsive: false,
      animation: false,
      layout: { padding: { left: 0, right: 5, top: 16, bottom: 12 } },
      plugins: { legend: { display: false }, tooltip: { enabled: false } },
      scales: {
        x: {
          stacked: true,
          ticks: { display: false },
          grid: { display: false, drawTicks: false },
          border: { color: '#111', width: 2 },
          afterFit: s => { s.height = 0; }
        },
        y: {
          stacked: true, min: yTicks[0], max: yTicks[yTicks.length - 1],
          ticks: { stepSize: yTicks[1] - yTicks[0], padding: 3, color: '#111', font: { size: 18 } },
          grid: { drawOnChartArea: false, color: '#111', tickLength: 6, lineWidth: 1.5 },
          border: { color: '#111', width: 2 },
          afterFit: s => { s.width = 87.3; }
        }
      }
    },
    plugins: [plotFrame]
  });
}

stackedChart('phyla', phylaNames, phylaValues, phylaColors);
stackedChart('families', familyNames, familyValues, familyColors);

// developmental stage strip with its labels
const stageLabels = {
  id: 'stageLabels',
  afterDatasetsDraw(chart) {
    const { ctx, chartArea } = chart;
    const narrow = (text, x, y) => {
      ctx.save();
      ctx.translate(x, y);
      ctx.scale(0.9, 1);
      ctx.fillText(text, 0, 0);
      ctx.restore();
    };
    ctx.save();
    ctx.fillStyle = '#111';
    ctx.font = "bold 17px 'Liberation Sans', Arial, sans-serif";
    ctx.textAlign = 'center';
    ctx.textBaseline = 'middle';
    chart.data.datasets.forEach((ds, i) => {
      const bar = chart.getDatasetMeta(i).data[0];
      narrow(ds.label, (bar.x + bar.base) / 2, chartArea.bottom + 13);
    });
    narrow('Developmental', chartArea.left - 59.3, chartArea.top + 3);
    narrow('stages', chartArea.left - 59.3, chartArea.bottom + 13);
    ctx.restore();
  }
};

new Chart(document.getElementById('stages'), {
  type: 'bar',
  data: {
    labels: ['Developmental stages'],
    datasets: stageNames.map((s, i) => ({
      label: s, data: [stageCounts[i]], backgroundColor: stageColors[i],
      borderWidth: 0, barPercentage: 1, categoryPercentage: 1
    }))
  },
  options: {
    indexAxis: 'y',
    responsive: false,
    animation: false,
    layout: { padding: { left: 137.3, right: 5, top: 10, bottom: 28 } },
    plugins: { legend: { display: false }, tooltip: { enabled: false } },
    scales: {
      x: { stacked: true, display: false, min: 0, max: samples.length },
      y: { stacked: true, display: false }
    }
  },
  plugins: [stageLabels]
});

// legends (top of the stack listed first)
function legendItem(parent, name, color, left, centerY) {
  const d = document.createElement('div');
  d.className = 'item';
  d.style.left = left + 'px';
  d.style.top = (centerY - 9) + 'px';
  d.innerHTML = '<i style="background:' + color + '"></i><span>' + name + '</span>';
  parent.appendChild(d);
}

const lp = document.getElementById('legendPhyla');
phylaNames.slice().reverse().forEach((n, r) => {
  legendItem(lp, n, phylaColors[phylaNames.length - 1 - r], 902, 85.7 + r * 16.85);
});

const lf = document.getElementById('legendFamilies');
const firstColumn = 15;
for (let i = firstColumn - 1, r = 0; i >= 0; i--, r++) {
  legendItem(lf, familyNames[i], familyColors[i], 902, 355.7 + r * 16.74);
}
for (let i = familyNames.length - 1, r = 1; i >= firstColumn; i--, r++) {
  legendItem(lf, familyNames[i], familyColors[i], 1110.7, 355.7 + r * 16.74);
}
</script>
</body>
</html>
